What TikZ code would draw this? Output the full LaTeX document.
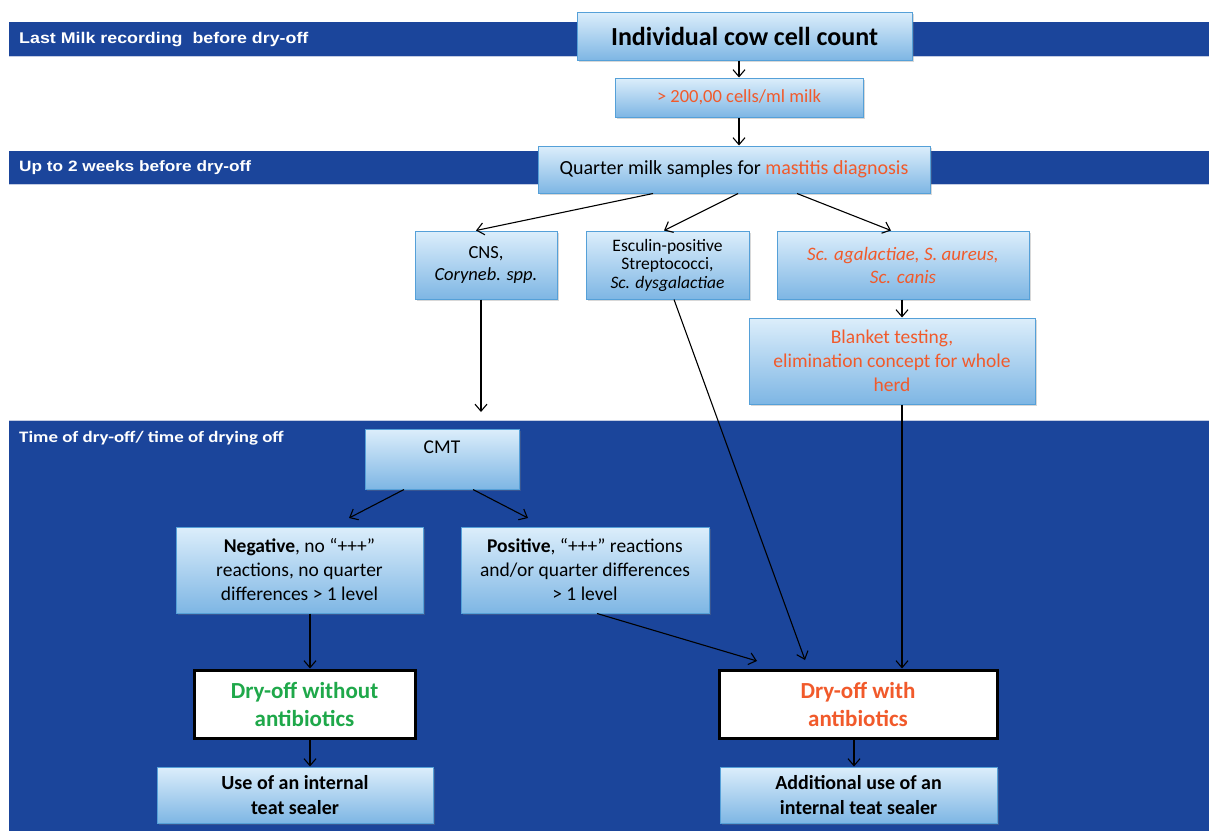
\documentclass[tikz,border=0pt]{standalone}
\usepackage{fontspec}
\setmainfont{Carlito}
\newfontfamily\bandfont{Liberation Sans}[FakeStretch=1.15]
\newfontfamily\bandfontc{Carlito}[FakeStretch=1.18]
\usetikzlibrary{arrows.meta,shadows}
\definecolor{bandblue}{HTML}{1B459B}
\definecolor{bandline}{HTML}{C3CCE2}
\definecolor{boxtop}{HTML}{DCEEFB}
\definecolor{boxbot}{HTML}{7EB6E4}
\definecolor{boxborder}{HTML}{55A0D8}
\definecolor{redtxt}{HTML}{F15A2B}
\definecolor{greentxt}{HTML}{1FA84A}
\newcommand\fsz[2]{\fontsize{#1}{#2}\selectfont}
\begin{document}
\begin{tikzpicture}[x=1pt,y=-1pt,
  bluebox/.style={draw=boxborder, line width=1pt, top color=boxtop, bottom color=boxbot,
    drop shadow={opacity=0.3, shadow xshift=1.5pt, shadow yshift=-2pt},
    align=center, inner sep=2pt},
  whitebox/.style={draw=black, line width=3pt, fill=white, align=center, inner sep=2pt},
  arr/.style={-{Straight Barb[length=7pt,width=12pt]}, line width=1.1pt, black},
  bandtext/.style={text=white, anchor=west, inner sep=0pt}]
\useasboundingbox (0,0) rectangle (1209,831);
\fill[white] (0,0) rectangle (1209,831);
% bands
\fill[bandblue] (9,22) rectangle (1209,56);
\draw[bandline, line width=1.2pt] (9,56.8) -- (1209,56.8);
\fill[bandblue] (9,151) rectangle (1209,184);
\draw[bandline, line width=1.2pt] (9,184.8) -- (1209,184.8);
\fill[bandblue] (9,421) rectangle (1209,831);
\draw[bandline, line width=1.2pt] (9,420.4) -- (1209,420.4);
\node[bandtext, font=\bandfont\bfseries\fsz{15.5}{18}] (b1) at (19,39.5) {Last Milk recording\ \ before dry-off};
\node[bandtext, font=\bandfont\bfseries\fsz{15}{18}] (b2) at (19,167.5) {Up to 2 weeks before dry-off};
\node[bandtext, font=\bandfontc\bfseries\fsz{16}{18}] (b3) at (19,438) {Time of dry-off/ time of drying off};
% boxes
\node[bluebox, minimum width=335, minimum height=48, font=\fsz{26}{30}\bfseries] (icc) at (744.5,36) {Individual cow cell count};
\node[bluebox, minimum width=248, minimum height=39, font=\fsz{18.5}{22}, text=redtxt] (cells) at (739,97.5) {> 200,00 cells/ml milk};
\node[bluebox, minimum width=392, minimum height=47, font=\fsz{20}{24}] (quarter) at (734,169.5) {Quarter milk samples for \textcolor{redtxt}{mastitis diagnosis}};
\node[bluebox, minimum width=142, minimum height=68, font=\fsz{18.5}{22}] (cns) at (486,265) {CNS,\\\textit{Coryneb. spp.}};
\node[bluebox, minimum width=163, minimum height=68, font=\fsz{17.5}{18.5}] (esc) at (667.5,265) {Esculin-positive\\Streptococci,\\\textit{Sc. dysgalactiae}};
\node[bluebox, minimum width=252, minimum height=68, font=\fsz{19}{23}, text=redtxt] (sca) at (903,265) {\textit{Sc. agalactiae, S. aureus,}\\\textit{Sc. canis}};
\node[bluebox, minimum width=286, minimum height=86, font=\fsz{19.5}{24}, text=redtxt] (blank) at (892,361) {Blanket testing,\\elimination concept for whole\\herd};
\node[bluebox, minimum width=154, minimum height=60, font=\fsz{19.5}{23}, text height=13pt, text depth=24pt] (cmt) at (442,459) {CMT};
\node[bluebox, minimum width=247, minimum height=86, font=\fsz{19.5}{24}] (neg) at (299.5,570) {\textbf{Negative}, no “+++”\\reactions, no quarter\\differences > 1 level};
\node[bluebox, minimum width=248, minimum height=86, font=\fsz{19.5}{24}] (pos) at (585,570) {\textbf{Positive}, “+++” reactions\\and/or quarter differences\\> 1 level};
\node[whitebox, minimum width=221, minimum height=68, font=\fsz{23}{28}\bfseries, text=greentxt] (dwo) at (304.5,704) {Dry-off without\\antibiotics};
\node[whitebox, minimum width=278, minimum height=68, font=\fsz{23}{28}\bfseries, text=redtxt] (dw) at (858,704) {Dry-off with\\antibiotics};
\node[bluebox, minimum width=276, minimum height=56, font=\fsz{20}{25}\bfseries] (use) at (295,795) {Use of an internal\\teat sealer};
\node[bluebox, minimum width=277, minimum height=56, font=\fsz{20}{25}\bfseries] (add) at (858.5,795) {Additional use of an\\internal teat sealer};
% free ends
\coordinate (cnsend) at (481,412);
\coordinate (escend) at (805,660);
\coordinate (negin) at (349,518);
\coordinate (posin) at (528,518);
\coordinate (posend) at (757,661);
% connectors
\draw[arr] (icc.south -| cells.north) -- (cells.north);
\draw[arr] (cells.south) -- (cells.south |- quarter.north);
\draw[arr] ([xshift=-81pt]quarter.south) -- ([xshift=-10pt]cns.north);
\draw[arr] ([xshift=4pt]quarter.south) -- ([xshift=-3.5pt]esc.north);
\draw[arr] ([xshift=63pt]quarter.south) -- ([xshift=-12pt]sca.north);
\draw[arr] ([xshift=-5pt]cns.south) -- (cnsend);
\draw[arr] ([xshift=6.5pt]esc.south) -- (escend);
\draw[arr] ([xshift=-1pt]sca.south) -- ([xshift=-1pt]sca.south |- blank.north);
\draw[arr] ([xshift=10pt]blank.south) -- ([xshift=10pt]blank.south |- dw.north);
\draw[arr] ([xshift=-38pt]cmt.south) -- (negin);
\draw[arr] ([xshift=31pt]cmt.south) -- (posin);
\draw[arr] ([xshift=10.5pt]neg.south) -- ([xshift=10.5pt]neg.south |- dwo.north);
\draw[arr] ([xshift=12pt]pos.south) -- (posend);
\draw[arr] ([xshift=5.5pt]dwo.south) -- ([xshift=5.5pt]dwo.south |- use.north);
\draw[arr] ([xshift=-4pt]dw.south) -- ([xshift=-4pt]dw.south |- add.north);
\end{tikzpicture}
\end{document}
